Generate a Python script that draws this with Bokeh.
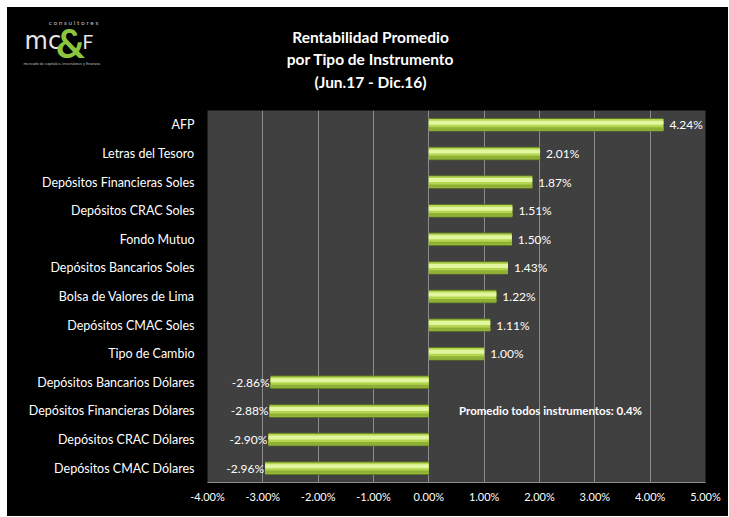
from bokeh.plotting import figure
from bokeh.layouts import column, row
from bokeh.models import Range1d, FixedTicker, PrintfTickFormatter, ColumnDataSource
from bokeh.core.properties import value
from bokeh.embed import file_html
from bokeh.resources import INLINE

categories = ["AFP", "Letras del Tesoro", "Depósitos Financieras Soles", "Depósitos CRAC Soles",
              "Fondo Mutuo", "Depósitos Bancarios Soles", "Bolsa de Valores de Lima",
              "Depósitos CMAC Soles", "Tipo de Cambio", "Depósitos Bancarios Dólares",
              "Depósitos Financieras Dólares", "Depósitos CRAC Dólares", "Depósitos CMAC Dólares"]
values = [4.24, 2.01, 1.87, 1.51, 1.50, 1.43, 1.22, 1.11, 1.00, -2.86, -2.88, -2.90, -2.96]
x_ticks = [-4, -3, -2, -1, 0, 1, 2, 3, 4, 5]
title_lines = ["Rentabilidad Promedio", "por Tipo de Instrumento", "(Jun.17 - Dic.16)"]
note_text = "Promedio todos instrumentos: 0.4%"
note_row = 10

FONT = "Lato"
W = 721
TOP_H = 103
ML, MR, MB = 200, 23, 34
FH = 372
X0, X1 = -4, 5
Y_TOP, Y_BOT = -0.5, len(categories) - 0.5
FW = W - ML - MR
BLACK = {"background-color": "#000000"}

def dx(px):  # canvas px -> data x
    return X0 + (px - ML) / FW * (X1 - X0)

# ---------- header (title + logo) ----------
h = figure(width=W, height=TOP_H, output_backend="svg", toolbar_location=None,
           x_range=Range1d(0, W), y_range=Range1d(TOP_H, 0),
           min_border=0, background_fill_color="#000000", border_fill_color="#000000")
h.outline_line_color = None
h.axis.visible = False
h.grid.visible = False

h.text(x=[363] * 3, y=[29, 51, 74], text=title_lines, text_align="center", text_baseline="middle",
       text_color="white", text_font=value(FONT), text_font_size="15.5px", text_font_style="bold")

h.text(x=[66], y=[15], text=["c o n s u l t o r e s"], text_align="center", text_baseline="middle",
       text_color="#bfbfbf", text_font=value(FONT), text_font_size="6.5px")
h.text(x=[17], y=[33], text=["mc"], text_align="left", text_baseline="middle",
       text_color="#e6e6e6", text_font=value("DejaVu Sans"), text_font_size="24px")
h.text(x=[63], y=[35], text=["&"], text_align="center", text_baseline="middle",
       text_color="#8cc63f", text_font=value(FONT), text_font_size="40px", text_font_style="bold")
h.text(x=[75], y=[34], text=["F"], text_align="left", text_baseline="middle",
       text_color="#e6e6e6", text_font=value(FONT), text_font_size="19px")
h.text(x=[16], y=[56], text=["mercado de capitales, inversiones y finanzas"], text_align="left",
       text_baseline="middle", text_color="#bfbfbf", text_font=value(FONT), text_font_size="4px")

# ---------- chart ----------
p = figure(width=W, height=FH + MB, output_backend="svg", toolbar_location=None,
           x_range=Range1d(X0, X1), y_range=Range1d(Y_BOT, Y_TOP),
           min_border_left=ML, min_border_right=MR, min_border_top=0, min_border_bottom=MB,
           background_fill_color="#404040", border_fill_color="#000000")
p.outline_line_color = None

ys = list(range(len(categories)))
src = ColumnDataSource(dict(y=ys, v=values, z=[0] * len(values),
                            y_hi=[y - 0.07 for y in ys], y_lo=[y + 0.14 for y in ys]))

p.xgrid.ticker = FixedTicker(ticks=x_ticks)
p.xgrid.grid_line_color = "#8c8c8c"
p.xgrid.grid_line_width = 1
p.ygrid.grid_line_color = None

# bars (cylinder look)
p.hbar(y="y", left="z", right="v", height=0.47, source=src, fill_color="#5e7a20", line_color=None)
p.hbar(y="y", left="z", right="v", height=0.40, source=src, fill_color="#b4d650", line_color=None)
p.hbar(y="y_lo", left="z", right="v", height=0.11, source=src, fill_color="#8fb034", line_color=None)
p.hbar(y="y_hi", left="z", right="v", height=0.14, source=src, fill_color="#e2f6a0", line_color=None)

# value labels
pos = ColumnDataSource(dict(x=[v for v in values if v >= 0], y=[y for y, v in zip(ys, values) if v >= 0],
                            t=[f"{v:.2f}%" for v in values if v >= 0]))
neg = ColumnDataSource(dict(x=[v for v in values if v < 0], y=[y for y, v in zip(ys, values) if v < 0],
                            t=[f"{v:.2f}%" for v in values if v < 0]))
p.text(x="x", y="y", text="t", source=pos, x_offset=6, text_align="left", text_baseline="middle",
       text_color="white", text_font=value(FONT), text_font_size="12px")
p.text(x="x", y="y", text="t", source=neg, x_offset=-1, text_align="right", text_baseline="middle",
       text_color="white", text_font=value(FONT), text_font_size="12px")

# note
p.text(x=[dx(543)], y=[note_row], text=[note_text], text_align="center", text_baseline="middle",
       text_color="white", text_font=value(FONT), text_font_size="11.5px", text_font_style="bold")

# axes
xa = p.xaxis[0]
xa.ticker = FixedTicker(ticks=x_ticks)
xa.formatter = PrintfTickFormatter(format="%.2f%%")
xa.axis_line_color = "#8c8c8c"
xa.major_tick_line_color = None
xa.minor_tick_line_color = None
xa.major_tick_out = 0
xa.major_label_standoff = 7
xa.major_label_text_color = "white"
xa.major_label_text_font = FONT
xa.major_label_text_font_size = "11px"

ya = p.yaxis[0]
ya.ticker = FixedTicker(ticks=ys)
ya.major_label_overrides = {i: c for i, c in enumerate(categories)}
ya.axis_line_color = None
ya.major_tick_line_color = None
ya.minor_tick_line_color = None
ya.major_tick_out = 0
ya.major_label_standoff = 13
ya.major_label_text_color = "white"
ya.major_label_text_font = FONT
ya.major_label_text_font_size = "12.5px"

layout = column(row(h, styles=BLACK), p, spacing=0, margin=(7, 0, 0, 7), styles=BLACK)
open("out.html", "w").write(file_html(layout, INLINE))
